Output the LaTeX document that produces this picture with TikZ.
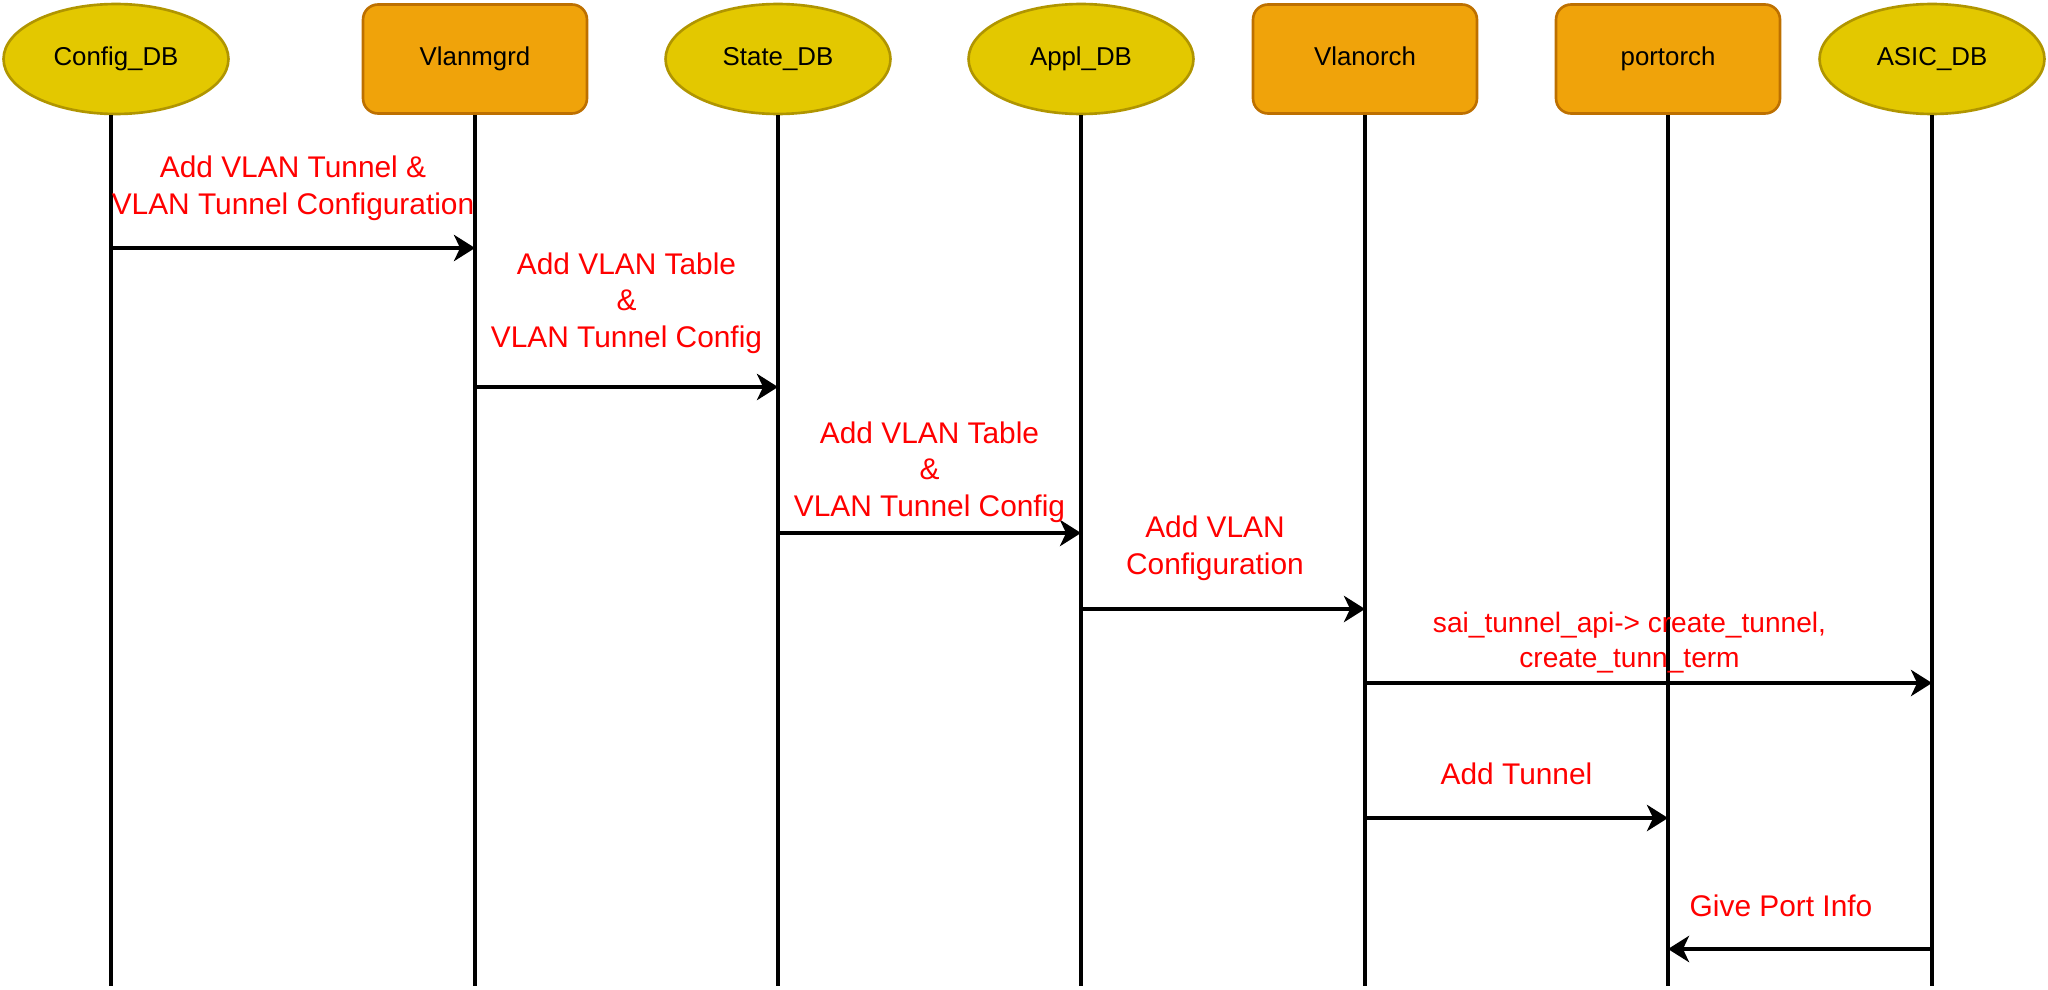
\documentclass[tikz,border=0pt]{standalone}
\usepackage{fontspec}
\setmainfont{Liberation Sans}
\usetikzlibrary{positioning}
\usetikzlibrary{arrows.meta}
\usetikzlibrary{shapes.geometric}

\definecolor{dbfill}{HTML}{E3C800}
\definecolor{dbline}{HTML}{B09500}
\definecolor{procfill}{HTML}{F0A30A}
\definecolor{procline}{HTML}{BD7000}

\tikzset{
    db/.style={ellipse, draw=dbline, fill=dbfill, line width=1.5pt, inner sep=0pt,
        minimum width=4.5cm, minimum height=2.2cm, text height=10.5pt, text depth=3pt,
        font=\fontsize{14.7}{17}\selectfont},
    proc/.style={rectangle, rounded corners=0.3cm, draw=procline, fill=procfill, line width=1.5pt,
        inner sep=0pt, minimum width=4.48cm, minimum height=2.18cm, text height=10.5pt, text depth=3pt,
        font=\fontsize{14.7}{17}\selectfont},
    life/.style={line width=1.9pt},
    msg/.style={line width=1.9pt, -{Stealth[length=12pt,width=15pt,inset=3.5pt]}},
    lbl/.style={text=red, align=center, inner sep=0pt, font=\fontsize{17}{20.8}\selectfont},
}

\begin{document}
\begin{tikzpicture}[x=0.02cm, y=-0.02cm]
        \useasboundingbox (0,0) rectangle (2048,990);

        \node[db] (cfg) at (116,59) {Config\_DB};
        \node[proc] (mgr) at (475,59) {Vlanmgrd};
        \node[db] (state) at (778,59) {State\_DB};
        \node[db] (appl) at (1081,59) {Appl\_DB};
        \node[proc] (vorch) at (1365,59) {Vlanorch};
        \node[proc] (porch) at (1668,59) {portorch};
        \node[db] (asic) at (1932,59) {ASIC\_DB};

        \coordinate (bottom) at (0,986);
        \coordinate (cfgline) at ([xshift=-0.1cm]cfg.south);
        \draw[life] (cfgline) -- (cfgline |- bottom);
        \foreach \n in {mgr,state,appl,vorch,porch,asic}
            \draw[life] (\n.south) -- (\n |- bottom);

        \coordinate (m1) at (0,248);
        \coordinate (m2) at (0,387);
        \coordinate (m3) at (0,533);
        \coordinate (m4) at (0,609);
        \coordinate (m5) at (0,683);
        \coordinate (m6) at (0,818);
        \coordinate (m7) at (0,949);

        \draw[msg] (cfgline |- m1) -- node[lbl, yshift=1.2cm] {Add VLAN Tunnel \&\\VLAN Tunnel Configuration} (mgr |- m1);
        \draw[msg] (mgr |- m2) -- node[lbl, yshift=1.68cm] {Add VLAN Table\\\&\\VLAN Tunnel Config} (state |- m2);
        \draw[msg] (state |- m3) -- node[lbl, yshift=1.22cm] {Add VLAN Table\\\&\\VLAN Tunnel Config} (appl |- m3);
        \draw[msg] (appl |- m4) -- node[lbl, yshift=1.22cm, xshift=-0.16cm] {Add VLAN\\Configuration} (vorch |- m4);
        \draw[msg] (vorch |- m5) -- node[lbl, yshift=0.8cm, xshift=-0.38cm, font=\fontsize{16}{19.9}\selectfont] {sai\_tunnel\_api-> create\_tunnel,\\create\_tunn\_term} (asic |- m5);
        \draw[msg] (vorch |- m6) -- node[lbl, yshift=0.88cm] {Add Tunnel} (porch |- m6);
        \draw[msg] (asic |- m7) -- node[lbl, yshift=0.86cm, xshift=-0.38cm] {Give Port Info} (porch |- m7);

    \end{tikzpicture}
\end{document}
